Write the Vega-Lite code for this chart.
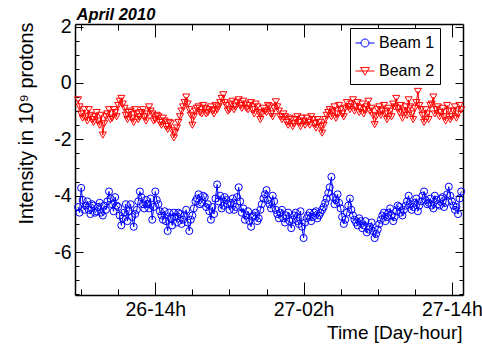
{
"$schema": "https://vega.github.io/schema/vega-lite/v6.json",
"width": 388, "height": 271, "autosize": "none",
"padding": {"left": 75, "top": 24, "right": 19, "bottom": 53},
"background": "white",
"config": {
 "view": {"stroke": null},
 "axis": {"grid": false, "domainColor": "black", "domainWidth": 1.5, "tickColor": "black", "tickWidth": 1, "labelColor": "black", "titleColor": "black", "labelFont": "Liberation Sans", "titleFont": "Liberation Sans", "labelFontSize": 19.5, "titleFontSize": 19, "titleFontWeight": "normal"}
},
"data": {"format": {"parse": {"t": "utc:'%Y-%m-%dT%H:%M'"}}, "values": [
{"t":"2010-04-26T07:45","Beam 1":-4.4,"Beam 2":-0.6},
{"t":"2010-04-26T07:52","Beam 1":-4.6,"Beam 2":-0.85},
{"t":"2010-04-26T08:00","Beam 1":-3.72,"Beam 2":-1.1},
{"t":"2010-04-26T08:07","Beam 1":-4.15,"Beam 2":-1.25},
{"t":"2010-04-26T08:15","Beam 1":-4.5,"Beam 2":-0.95},
{"t":"2010-04-26T08:22","Beam 1":-4.35,"Beam 2":-1.2},
{"t":"2010-04-26T08:30","Beam 1":-4.2,"Beam 2":-1.35},
{"t":"2010-04-26T08:37","Beam 1":-4.5,"Beam 2":-0.95},
{"t":"2010-04-26T08:45","Beam 1":-4.65,"Beam 2":-1.15},
{"t":"2010-04-26T08:52","Beam 1":-4.3,"Beam 2":-1.3},
{"t":"2010-04-26T09:00","Beam 1":-4.35,"Beam 2":-1.4},
{"t":"2010-04-26T09:07","Beam 1":-4.6,"Beam 2":-1.2},
{"t":"2010-04-26T09:15","Beam 1":-4.55,"Beam 2":-1.05},
{"t":"2010-04-26T09:22","Beam 1":-4.4,"Beam 2":-1.35},
{"t":"2010-04-26T09:30","Beam 1":-4.25,"Beam 2":-1.5},
{"t":"2010-04-26T09:37","Beam 1":-4.6,"Beam 2":-1.15},
{"t":"2010-04-26T09:45","Beam 1":-4.7,"Beam 2":-1.85},
{"t":"2010-04-26T09:52","Beam 1":-4.35,"Beam 2":-1.45},
{"t":"2010-04-26T10:00","Beam 1":-4.5,"Beam 2":-1.2},
{"t":"2010-04-26T10:07","Beam 1":-4.2,"Beam 2":-1.1},
{"t":"2010-04-26T10:15","Beam 1":-3.85,"Beam 2":-0.95},
{"t":"2010-04-26T10:22","Beam 1":-4.1,"Beam 2":-1.3},
{"t":"2010-04-26T10:30","Beam 1":-4.3,"Beam 2":-1.25},
{"t":"2010-04-26T10:37","Beam 1":-4.55,"Beam 2":-0.95},
{"t":"2010-04-26T10:45","Beam 1":-4.05,"Beam 2":-1.05},
{"t":"2010-04-26T10:52","Beam 1":-4.35,"Beam 2":-1.2},
{"t":"2010-04-26T11:00","Beam 1":-4.4,"Beam 2":-0.8},
{"t":"2010-04-26T11:07","Beam 1":-4.7,"Beam 2":-0.65},
{"t":"2010-04-26T11:15","Beam 1":-5.05,"Beam 2":-0.55},
{"t":"2010-04-26T11:22","Beam 1":-4.8,"Beam 2":-0.75},
{"t":"2010-04-26T11:30","Beam 1":-4.6,"Beam 2":-0.9},
{"t":"2010-04-26T11:37","Beam 1":-4.3,"Beam 2":-1.15},
{"t":"2010-04-26T11:45","Beam 1":-4.9,"Beam 2":-1.3},
{"t":"2010-04-26T11:52","Beam 1":-4.55,"Beam 2":-1.05},
{"t":"2010-04-26T12:00","Beam 1":-4.3,"Beam 2":-1.0},
{"t":"2010-04-26T12:07","Beam 1":-4.75,"Beam 2":-1.25},
{"t":"2010-04-26T12:15","Beam 1":-5.1,"Beam 2":-1.4},
{"t":"2010-04-26T12:22","Beam 1":-4.65,"Beam 2":-0.95},
{"t":"2010-04-26T12:30","Beam 1":-4.5,"Beam 2":-1.1},
{"t":"2010-04-26T12:37","Beam 1":-4.2,"Beam 2":-1.3},
{"t":"2010-04-26T12:45","Beam 1":-3.85,"Beam 2":-1.2},
{"t":"2010-04-26T12:52","Beam 1":-4.05,"Beam 2":-1.05},
{"t":"2010-04-26T13:00","Beam 1":-4.3,"Beam 2":-0.95},
{"t":"2010-04-26T13:07","Beam 1":-4.45,"Beam 2":-1.2},
{"t":"2010-04-26T13:15","Beam 1":-4.15,"Beam 2":-1.35},
{"t":"2010-04-26T13:22","Beam 1":-4.3,"Beam 2":-1.1},
{"t":"2010-04-26T13:30","Beam 1":-4.45,"Beam 2":-0.85},
{"t":"2010-04-26T13:37","Beam 1":-4.1,"Beam 2":-1.0},
{"t":"2010-04-26T13:45","Beam 1":-4.85,"Beam 2":-1.1},
{"t":"2010-04-26T13:52","Beam 1":-4.4,"Beam 2":-1.35},
{"t":"2010-04-26T14:00","Beam 1":-3.85,"Beam 2":-1.3},
{"t":"2010-04-26T14:07","Beam 1":-4.15,"Beam 2":-1.15},
{"t":"2010-04-26T14:15","Beam 1":-4.3,"Beam 2":-1.2},
{"t":"2010-04-26T14:22","Beam 1":-4.55,"Beam 2":-1.4},
{"t":"2010-04-26T14:30","Beam 1":-4.7,"Beam 2":-1.5},
{"t":"2010-04-26T14:37","Beam 1":-4.85,"Beam 2":-1.25},
{"t":"2010-04-26T14:45","Beam 1":-4.55,"Beam 2":-1.35},
{"t":"2010-04-26T14:52","Beam 1":-4.9,"Beam 2":-1.55},
{"t":"2010-04-26T15:00","Beam 1":-5.25,"Beam 2":-1.65},
{"t":"2010-04-26T15:07","Beam 1":-4.6,"Beam 2":-1.4},
{"t":"2010-04-26T15:15","Beam 1":-4.8,"Beam 2":-1.45},
{"t":"2010-04-26T15:22","Beam 1":-5.05,"Beam 2":-1.7},
{"t":"2010-04-26T15:30","Beam 1":-4.6,"Beam 2":-1.95},
{"t":"2010-04-26T15:37","Beam 1":-4.75,"Beam 2":-1.75},
{"t":"2010-04-26T15:45","Beam 1":-4.95,"Beam 2":-1.6},
{"t":"2010-04-26T15:52","Beam 1":-4.6,"Beam 2":-1.4},
{"t":"2010-04-26T16:00","Beam 1":-4.65,"Beam 2":-1.2},
{"t":"2010-04-26T16:07","Beam 1":-5.0,"Beam 2":-1.0},
{"t":"2010-04-26T16:15","Beam 1":-4.85,"Beam 2":-0.85},
{"t":"2010-04-26T16:22","Beam 1":-4.7,"Beam 2":-0.7},
{"t":"2010-04-26T16:30","Beam 1":-4.5,"Beam 2":-0.5},
{"t":"2010-04-26T16:37","Beam 1":-4.95,"Beam 2":-0.75},
{"t":"2010-04-26T16:45","Beam 1":-5.25,"Beam 2":-0.95},
{"t":"2010-04-26T16:52","Beam 1":-4.85,"Beam 2":-1.15},
{"t":"2010-04-26T17:00","Beam 1":-4.7,"Beam 2":-1.5},
{"t":"2010-04-26T17:07","Beam 1":-4.45,"Beam 2":-1.2},
{"t":"2010-04-26T17:15","Beam 1":-4.2,"Beam 2":-1.0},
{"t":"2010-04-26T17:22","Beam 1":-4.1,"Beam 2":-0.9},
{"t":"2010-04-26T17:30","Beam 1":-3.95,"Beam 2":-0.85},
{"t":"2010-04-26T17:37","Beam 1":-4.3,"Beam 2":-1.05},
{"t":"2010-04-26T17:45","Beam 1":-4.25,"Beam 2":-1.1},
{"t":"2010-04-26T17:52","Beam 1":-4.0,"Beam 2":-0.8},
{"t":"2010-04-26T18:00","Beam 1":-4.05,"Beam 2":-0.9},
{"t":"2010-04-26T18:07","Beam 1":-4.4,"Beam 2":-1.1},
{"t":"2010-04-26T18:15","Beam 1":-4.3,"Beam 2":-1.05},
{"t":"2010-04-26T18:22","Beam 1":-4.55,"Beam 2":-0.95},
{"t":"2010-04-26T18:30","Beam 1":-4.85,"Beam 2":-0.85},
{"t":"2010-04-26T18:37","Beam 1":-4.4,"Beam 2":-1.0},
{"t":"2010-04-26T18:45","Beam 1":-4.65,"Beam 2":-1.1},
{"t":"2010-04-26T18:52","Beam 1":-4.1,"Beam 2":-0.8},
{"t":"2010-04-26T19:00","Beam 1":-3.6,"Beam 2":-0.95},
{"t":"2010-04-26T19:07","Beam 1":-4.2,"Beam 2":-0.85},
{"t":"2010-04-26T19:15","Beam 1":-4.0,"Beam 2":-0.7},
{"t":"2010-04-26T19:22","Beam 1":-4.45,"Beam 2":-0.55},
{"t":"2010-04-26T19:30","Beam 1":-4.35,"Beam 2":-0.42},
{"t":"2010-04-26T19:37","Beam 1":-4.05,"Beam 2":-0.7},
{"t":"2010-04-26T19:45","Beam 1":-4.15,"Beam 2":-0.8},
{"t":"2010-04-26T19:52","Beam 1":-4.3,"Beam 2":-1.0},
{"t":"2010-04-26T20:00","Beam 1":-4.5,"Beam 2":-0.95},
{"t":"2010-04-26T20:07","Beam 1":-4.25,"Beam 2":-0.75},
{"t":"2010-04-26T20:15","Beam 1":-4.1,"Beam 2":-0.65},
{"t":"2010-04-26T20:22","Beam 1":-4.5,"Beam 2":-0.95},
{"t":"2010-04-26T20:30","Beam 1":-4.4,"Beam 2":-0.85},
{"t":"2010-04-26T20:37","Beam 1":-4.05,"Beam 2":-0.7},
{"t":"2010-04-26T20:45","Beam 1":-3.7,"Beam 2":-0.6},
{"t":"2010-04-26T20:52","Beam 1":-4.2,"Beam 2":-0.8},
{"t":"2010-04-26T21:00","Beam 1":-4.6,"Beam 2":-0.9},
{"t":"2010-04-26T21:07","Beam 1":-4.45,"Beam 2":-0.65},
{"t":"2010-04-26T21:15","Beam 1":-4.85,"Beam 2":-0.75},
{"t":"2010-04-26T21:22","Beam 1":-4.7,"Beam 2":-0.9},
{"t":"2010-04-26T21:30","Beam 1":-4.55,"Beam 2":-0.95},
{"t":"2010-04-26T21:37","Beam 1":-4.9,"Beam 2":-0.8},
{"t":"2010-04-26T21:45","Beam 1":-5.1,"Beam 2":-0.7},
{"t":"2010-04-26T21:52","Beam 1":-4.75,"Beam 2":-0.95},
{"t":"2010-04-26T22:00","Beam 1":-4.7,"Beam 2":-1.1},
{"t":"2010-04-26T22:07","Beam 1":-4.6,"Beam 2":-0.75},
{"t":"2010-04-26T22:15","Beam 1":-4.9,"Beam 2":-0.85},
{"t":"2010-04-26T22:22","Beam 1":-4.8,"Beam 2":-1.05},
{"t":"2010-04-26T22:30","Beam 1":-4.5,"Beam 2":-1.3},
{"t":"2010-04-26T22:37","Beam 1":-4.3,"Beam 2":-1.1},
{"t":"2010-04-26T22:45","Beam 1":-4.1,"Beam 2":-0.9},
{"t":"2010-04-26T22:52","Beam 1":-3.95,"Beam 2":-1.0},
{"t":"2010-04-26T23:00","Beam 1":-3.8,"Beam 2":-1.05},
{"t":"2010-04-26T23:07","Beam 1":-4.15,"Beam 2":-0.8},
{"t":"2010-04-26T23:15","Beam 1":-4.3,"Beam 2":-0.85},
{"t":"2010-04-26T23:22","Beam 1":-4.45,"Beam 2":-1.1},
{"t":"2010-04-26T23:30","Beam 1":-4.0,"Beam 2":-1.2},
{"t":"2010-04-26T23:37","Beam 1":-4.2,"Beam 2":-0.9},
{"t":"2010-04-26T23:45","Beam 1":-4.5,"Beam 2":-0.67},
{"t":"2010-04-26T23:52","Beam 1":-4.65,"Beam 2":-0.85},
{"t":"2010-04-27T00:00","Beam 1":-4.8,"Beam 2":-1.0},
{"t":"2010-04-27T00:07","Beam 1":-4.6,"Beam 2":-1.2},
{"t":"2010-04-27T00:15","Beam 1":-4.5,"Beam 2":-1.3},
{"t":"2010-04-27T00:22","Beam 1":-4.8,"Beam 2":-1.1},
{"t":"2010-04-27T00:30","Beam 1":-4.95,"Beam 2":-1.2},
{"t":"2010-04-27T00:37","Beam 1":-4.7,"Beam 2":-1.4},
{"t":"2010-04-27T00:45","Beam 1":-4.6,"Beam 2":-1.5},
{"t":"2010-04-27T00:52","Beam 1":-4.9,"Beam 2":-1.25},
{"t":"2010-04-27T01:00","Beam 1":-5.15,"Beam 2":-1.3},
{"t":"2010-04-27T01:07","Beam 1":-4.85,"Beam 2":-1.55},
{"t":"2010-04-27T01:15","Beam 1":-4.7,"Beam 2":-1.45},
{"t":"2010-04-27T01:22","Beam 1":-4.6,"Beam 2":-1.3},
{"t":"2010-04-27T01:30","Beam 1":-4.9,"Beam 2":-1.2},
{"t":"2010-04-27T01:37","Beam 1":-5.0,"Beam 2":-1.4},
{"t":"2010-04-27T01:45","Beam 1":-4.55,"Beam 2":-1.55},
{"t":"2010-04-27T01:52","Beam 1":-5.1,"Beam 2":-1.25},
{"t":"2010-04-27T02:00","Beam 1":-5.5,"Beam 2":-1.35},
{"t":"2010-04-27T02:07","Beam 1":-4.95,"Beam 2":-1.5},
{"t":"2010-04-27T02:15","Beam 1":-4.8,"Beam 2":-1.25},
{"t":"2010-04-27T02:22","Beam 1":-4.7,"Beam 2":-1.4},
{"t":"2010-04-27T02:30","Beam 1":-4.6,"Beam 2":-1.5},
{"t":"2010-04-27T02:37","Beam 1":-4.9,"Beam 2":-1.2},
{"t":"2010-04-27T02:45","Beam 1":-4.75,"Beam 2":-1.3},
{"t":"2010-04-27T02:52","Beam 1":-4.6,"Beam 2":-1.45},
{"t":"2010-04-27T03:00","Beam 1":-4.55,"Beam 2":-1.6},
{"t":"2010-04-27T03:07","Beam 1":-4.8,"Beam 2":-1.3},
{"t":"2010-04-27T03:15","Beam 1":-4.7,"Beam 2":-1.4},
{"t":"2010-04-27T03:22","Beam 1":-4.6,"Beam 2":-1.55},
{"t":"2010-04-27T03:30","Beam 1":-4.5,"Beam 2":-1.78},
{"t":"2010-04-27T03:37","Beam 1":-4.4,"Beam 2":-1.5},
{"t":"2010-04-27T03:45","Beam 1":-4.25,"Beam 2":-1.3},
{"t":"2010-04-27T03:52","Beam 1":-4.1,"Beam 2":-1.15},
{"t":"2010-04-27T04:00","Beam 1":-3.9,"Beam 2":-1.05},
{"t":"2010-04-27T04:07","Beam 1":-3.7,"Beam 2":-0.95},
{"t":"2010-04-27T04:15","Beam 1":-3.33,"Beam 2":-1.2},
{"t":"2010-04-27T04:22","Beam 1":-4.05,"Beam 2":-1.0},
{"t":"2010-04-27T04:30","Beam 1":-4.3,"Beam 2":-0.85},
{"t":"2010-04-27T04:37","Beam 1":-4.15,"Beam 2":-1.25},
{"t":"2010-04-27T04:45","Beam 1":-3.95,"Beam 2":-1.1},
{"t":"2010-04-27T04:52","Beam 1":-4.25,"Beam 2":-0.8},
{"t":"2010-04-27T05:00","Beam 1":-4.45,"Beam 2":-0.95},
{"t":"2010-04-27T05:07","Beam 1":-4.75,"Beam 2":-1.1},
{"t":"2010-04-27T05:15","Beam 1":-5.0,"Beam 2":-1.2},
{"t":"2010-04-27T05:22","Beam 1":-4.85,"Beam 2":-0.9},
{"t":"2010-04-27T05:30","Beam 1":-4.6,"Beam 2":-0.7},
{"t":"2010-04-27T05:37","Beam 1":-4.35,"Beam 2":-0.85},
{"t":"2010-04-27T05:45","Beam 1":-4.1,"Beam 2":-0.95},
{"t":"2010-04-27T05:52","Beam 1":-4.5,"Beam 2":-0.75},
{"t":"2010-04-27T06:00","Beam 1":-4.7,"Beam 2":-0.6},
{"t":"2010-04-27T06:07","Beam 1":-4.85,"Beam 2":-1.0},
{"t":"2010-04-27T06:15","Beam 1":-4.95,"Beam 2":-0.85},
{"t":"2010-04-27T06:22","Beam 1":-5.05,"Beam 2":-0.7},
{"t":"2010-04-27T06:30","Beam 1":-4.8,"Beam 2":-1.05},
{"t":"2010-04-27T06:37","Beam 1":-4.9,"Beam 2":-0.9},
{"t":"2010-04-27T06:45","Beam 1":-5.15,"Beam 2":-0.75},
{"t":"2010-04-27T06:52","Beam 1":-5.05,"Beam 2":-1.1},
{"t":"2010-04-27T07:00","Beam 1":-4.9,"Beam 2":-0.95},
{"t":"2010-04-27T07:07","Beam 1":-5.3,"Beam 2":-0.85},
{"t":"2010-04-27T07:15","Beam 1":-5.2,"Beam 2":-0.65},
{"t":"2010-04-27T07:22","Beam 1":-5.1,"Beam 2":-1.0},
{"t":"2010-04-27T07:30","Beam 1":-4.95,"Beam 2":-0.9},
{"t":"2010-04-27T07:37","Beam 1":-5.25,"Beam 2":-1.15},
{"t":"2010-04-27T07:45","Beam 1":-5.5,"Beam 2":-1.48},
{"t":"2010-04-27T07:52","Beam 1":-5.35,"Beam 2":-1.2},
{"t":"2010-04-27T08:00","Beam 1":-5.2,"Beam 2":-0.95},
{"t":"2010-04-27T08:07","Beam 1":-5.0,"Beam 2":-0.85},
{"t":"2010-04-27T08:15","Beam 1":-4.85,"Beam 2":-1.15},
{"t":"2010-04-27T08:22","Beam 1":-4.7,"Beam 2":-1.0},
{"t":"2010-04-27T08:30","Beam 1":-4.6,"Beam 2":-0.8},
{"t":"2010-04-27T08:37","Beam 1":-4.9,"Beam 2":-1.1},
{"t":"2010-04-27T08:45","Beam 1":-4.75,"Beam 2":-1.3},
{"t":"2010-04-27T08:52","Beam 1":-4.6,"Beam 2":-0.9},
{"t":"2010-04-27T09:00","Beam 1":-4.45,"Beam 2":-1.0},
{"t":"2010-04-27T09:07","Beam 1":-4.7,"Beam 2":-1.2},
{"t":"2010-04-27T09:15","Beam 1":-4.9,"Beam 2":-0.75},
{"t":"2010-04-27T09:22","Beam 1":-4.75,"Beam 2":-0.85},
{"t":"2010-04-27T09:30","Beam 1":-4.55,"Beam 2":-0.55},
{"t":"2010-04-27T09:37","Beam 1":-4.35,"Beam 2":-0.9},
{"t":"2010-04-27T09:45","Beam 1":-4.4,"Beam 2":-1.05},
{"t":"2010-04-27T09:52","Beam 1":-4.6,"Beam 2":-0.8},
{"t":"2010-04-27T10:00","Beam 1":-4.7,"Beam 2":-1.25},
{"t":"2010-04-27T10:07","Beam 1":-4.5,"Beam 2":-1.0},
{"t":"2010-04-27T10:15","Beam 1":-4.35,"Beam 2":-0.85},
{"t":"2010-04-27T10:22","Beam 1":-4.2,"Beam 2":-1.15},
{"t":"2010-04-27T10:30","Beam 1":-4.0,"Beam 2":-0.6},
{"t":"2010-04-27T10:37","Beam 1":-4.3,"Beam 2":-0.85},
{"t":"2010-04-27T10:45","Beam 1":-4.5,"Beam 2":-1.1},
{"t":"2010-04-27T10:52","Beam 1":-4.4,"Beam 2":-1.3},
{"t":"2010-04-27T11:00","Beam 1":-4.25,"Beam 2":-0.9},
{"t":"2010-04-27T11:07","Beam 1":-4.1,"Beam 2":-0.7},
{"t":"2010-04-27T11:15","Beam 1":-4.55,"Beam 2":-0.3},
{"t":"2010-04-27T11:22","Beam 1":-4.35,"Beam 2":-0.8},
{"t":"2010-04-27T11:30","Beam 1":-4.2,"Beam 2":-0.95},
{"t":"2010-04-27T11:37","Beam 1":-4.0,"Beam 2":-1.15},
{"t":"2010-04-27T11:45","Beam 1":-3.85,"Beam 2":-1.4},
{"t":"2010-04-27T11:52","Beam 1":-4.15,"Beam 2":-0.95},
{"t":"2010-04-27T12:00","Beam 1":-4.3,"Beam 2":-1.1},
{"t":"2010-04-27T12:07","Beam 1":-4.25,"Beam 2":-1.3},
{"t":"2010-04-27T12:15","Beam 1":-4.1,"Beam 2":-0.8},
{"t":"2010-04-27T12:22","Beam 1":-4.35,"Beam 2":-0.75},
{"t":"2010-04-27T12:30","Beam 1":-4.45,"Beam 2":-0.5},
{"t":"2010-04-27T12:37","Beam 1":-4.0,"Beam 2":-1.1},
{"t":"2010-04-27T12:45","Beam 1":-4.15,"Beam 2":-0.95},
{"t":"2010-04-27T12:52","Beam 1":-4.3,"Beam 2":-0.85},
{"t":"2010-04-27T13:00","Beam 1":-4.35,"Beam 2":-1.2},
{"t":"2010-04-27T13:07","Beam 1":-4.1,"Beam 2":-1.05},
{"t":"2010-04-27T13:15","Beam 1":-4.05,"Beam 2":-0.9},
{"t":"2010-04-27T13:22","Beam 1":-4.4,"Beam 2":-1.2},
{"t":"2010-04-27T13:30","Beam 1":-4.25,"Beam 2":-1.35},
{"t":"2010-04-27T13:37","Beam 1":-3.95,"Beam 2":-0.8},
{"t":"2010-04-27T13:45","Beam 1":-3.68,"Beam 2":-1.0},
{"t":"2010-04-27T13:52","Beam 1":-4.0,"Beam 2":-1.3},
{"t":"2010-04-27T14:00","Beam 1":-4.2,"Beam 2":-1.2},
{"t":"2010-04-27T14:07","Beam 1":-4.35,"Beam 2":-1.0},
{"t":"2010-04-27T14:15","Beam 1":-4.5,"Beam 2":-0.85},
{"t":"2010-04-27T14:22","Beam 1":-4.4,"Beam 2":-1.25},
{"t":"2010-04-27T14:30","Beam 1":-4.65,"Beam 2":-1.1},
{"t":"2010-04-27T14:37","Beam 1":-4.1,"Beam 2":-0.8},
{"t":"2010-04-27T14:45","Beam 1":-3.85,"Beam 2":-0.95}
]},
"transform": [{"fold": ["Beam 1", "Beam 2"], "as": ["beam", "v"]}],
"layer": [
 {
  "mark": {"type": "line", "strokeWidth": 1},
  "encoding": {
   "x": {"field": "t", "type": "temporal",
    "scale": {"type": "utc", "domain": [{"year": 2010, "month": 4, "date": 26, "hours": 7, "minutes": 30, "utc": true}, {"year": 2010, "month": 4, "date": 27, "hours": 14, "minutes": 54, "utc": true}]},
    "axis": {"orient": "bottom", "title": "Time [Day-hour]", "titleAnchor": null, "titleX": 387, "titleY": 43, "titleAlign": "right", "titleBaseline": "alphabetic",
     "values": [
      {"year": 2010, "month": 4, "date": 26, "hours": 8, "utc": true},
      {"year": 2010, "month": 4, "date": 26, "hours": 11, "utc": true},
      {"year": 2010, "month": 4, "date": 26, "hours": 14, "utc": true},
      {"year": 2010, "month": 4, "date": 26, "hours": 17, "utc": true},
      {"year": 2010, "month": 4, "date": 26, "hours": 20, "utc": true},
      {"year": 2010, "month": 4, "date": 26, "hours": 23, "utc": true},
      {"year": 2010, "month": 4, "date": 27, "hours": 2, "utc": true},
      {"year": 2010, "month": 4, "date": 27, "hours": 5, "utc": true},
      {"year": 2010, "month": 4, "date": 27, "hours": 8, "utc": true},
      {"year": 2010, "month": 4, "date": 27, "hours": 11, "utc": true},
      {"year": 2010, "month": 4, "date": 27, "hours": 14, "utc": true}],
     "labelExpr": "utchours(datum.value) % 12 === 2 ? utcFormat(datum.value, '%d-%Hh') : ''",
     "labelBaseline": "alphabetic", "labelPadding": 33, "labelFlush": false, "labelOverlap": false,
     "tickSize": {"condition": {"test": "utchours(datum.value) % 12 === 2", "value": -13}, "value": -6}}},
   "y": {"field": "v", "type": "quantitative",
    "scale": {"domain": [-7.52, 2.09], "nice": false, "zero": false},
    "axis": {"orient": "left", "title": "Intensity in 10⁹ protons", "titleFontSize": 19.8, "titleAnchor": null, "titleAngle": -90, "titleX": -43, "titleY": -2, "titleAlign": "right", "titleBaseline": "alphabetic",
     "values": [-7.5, -7, -6.5, -6, -5.5, -5, -4.5, -4, -3.5, -3, -2.5, -2, -1.5, -1, -0.5, 0, 0.5, 1, 1.5, 2],
     "labelExpr": "datum.value % 2 === 0 ? toString(datum.value) : ''",
     "labelPadding": 12, "labelFlush": false, "labelOverlap": false, "labelBaseline": "middle",
     "tickSize": {"condition": {"test": "datum.value % 2 === 0", "value": -8}, "value": -4}}},
   "color": {"field": "beam", "type": "nominal", "scale": {"domain": ["Beam 1", "Beam 2"], "range": ["#0000ff", "#ff0000"]}}
  }
 },
 {
  "transform": [{"filter": "datum.beam === 'Beam 1'"}],
  "mark": {"type": "point", "shape": "circle", "filled": false, "size": 50, "strokeWidth": 1, "opacity": 1},
  "encoding": {
   "x": {"field": "t", "type": "temporal",
    "axis": {"orient": "top", "labels": false,
     "title": "April 2010", "titleAnchor": null, "titleX": 1, "titleY": -4.5, "titleAlign": "left", "titleBaseline": "alphabetic", "titleAngle": 0,
     "titleFontSize": 16.5, "titleFontStyle": "italic", "titleFontWeight": "bold",
     "values": [
      {"year": 2010, "month": 4, "date": 26, "hours": 8, "utc": true},
      {"year": 2010, "month": 4, "date": 26, "hours": 11, "utc": true},
      {"year": 2010, "month": 4, "date": 26, "hours": 14, "utc": true},
      {"year": 2010, "month": 4, "date": 26, "hours": 17, "utc": true},
      {"year": 2010, "month": 4, "date": 26, "hours": 20, "utc": true},
      {"year": 2010, "month": 4, "date": 26, "hours": 23, "utc": true},
      {"year": 2010, "month": 4, "date": 27, "hours": 2, "utc": true},
      {"year": 2010, "month": 4, "date": 27, "hours": 5, "utc": true},
      {"year": 2010, "month": 4, "date": 27, "hours": 8, "utc": true},
      {"year": 2010, "month": 4, "date": 27, "hours": 11, "utc": true},
      {"year": 2010, "month": 4, "date": 27, "hours": 14, "utc": true}],
     "tickSize": {"condition": {"test": "utchours(datum.value) % 12 === 2", "value": -13}, "value": -6}}},
   "y": {"field": "v", "type": "quantitative",
    "axis": {"orient": "right", "title": null, "labels": false,
     "values": [-7.5, -7, -6.5, -6, -5.5, -5, -4.5, -4, -3.5, -3, -2.5, -2, -1.5, -1, -0.5, 0, 0.5, 1, 1.5, 2],
     "tickSize": {"condition": {"test": "datum.value % 2 === 0", "value": -8}, "value": -4}}},
   "color": {"field": "beam", "type": "nominal",
    "legend": {"orient": "none", "legendX": 275, "legendY": 4, "title": null, "direction": "vertical",
     "fillColor": "white", "strokeColor": "black", "padding": 5, "rowPadding": 10,
     "labelFont": "Liberation Sans", "labelFontSize": 16, "labelColor": "black", "labelOffset": 4,
     "labelExpr": "datum.label + '      '", "labelLimit": 300,
     "symbolSize": 361, "symbolStrokeWidth": 1, "symbolFillColor": "transparent", "symbolOpacity": 1,
     "symbolType": {"expr": "datum.value === 'Beam 1' ? 'M-1,0L-0.42,0M0.42,0L1,0M0.42,0A0.42,0.42,0,1,1,-0.42,0A0.42,0.42,0,1,1,0.42,0Z' : 'M-1,0L1,0M-0.47,-0.36L0.47,-0.36L0,0.44Z'"}}}
  }
 },
 {
  "transform": [{"filter": "datum.beam === 'Beam 2'"}],
  "mark": {"type": "point", "shape": "triangle-down", "filled": false, "size": 50, "strokeWidth": 1, "opacity": 1},
  "encoding": {
   "x": {"field": "t", "type": "temporal", "axis": null},
   "y": {"field": "v", "type": "quantitative", "axis": null},
   "color": {"field": "beam", "type": "nominal"}
  }
 }
],
"resolve": {"axis": {"x": "independent", "y": "independent"}}
}
